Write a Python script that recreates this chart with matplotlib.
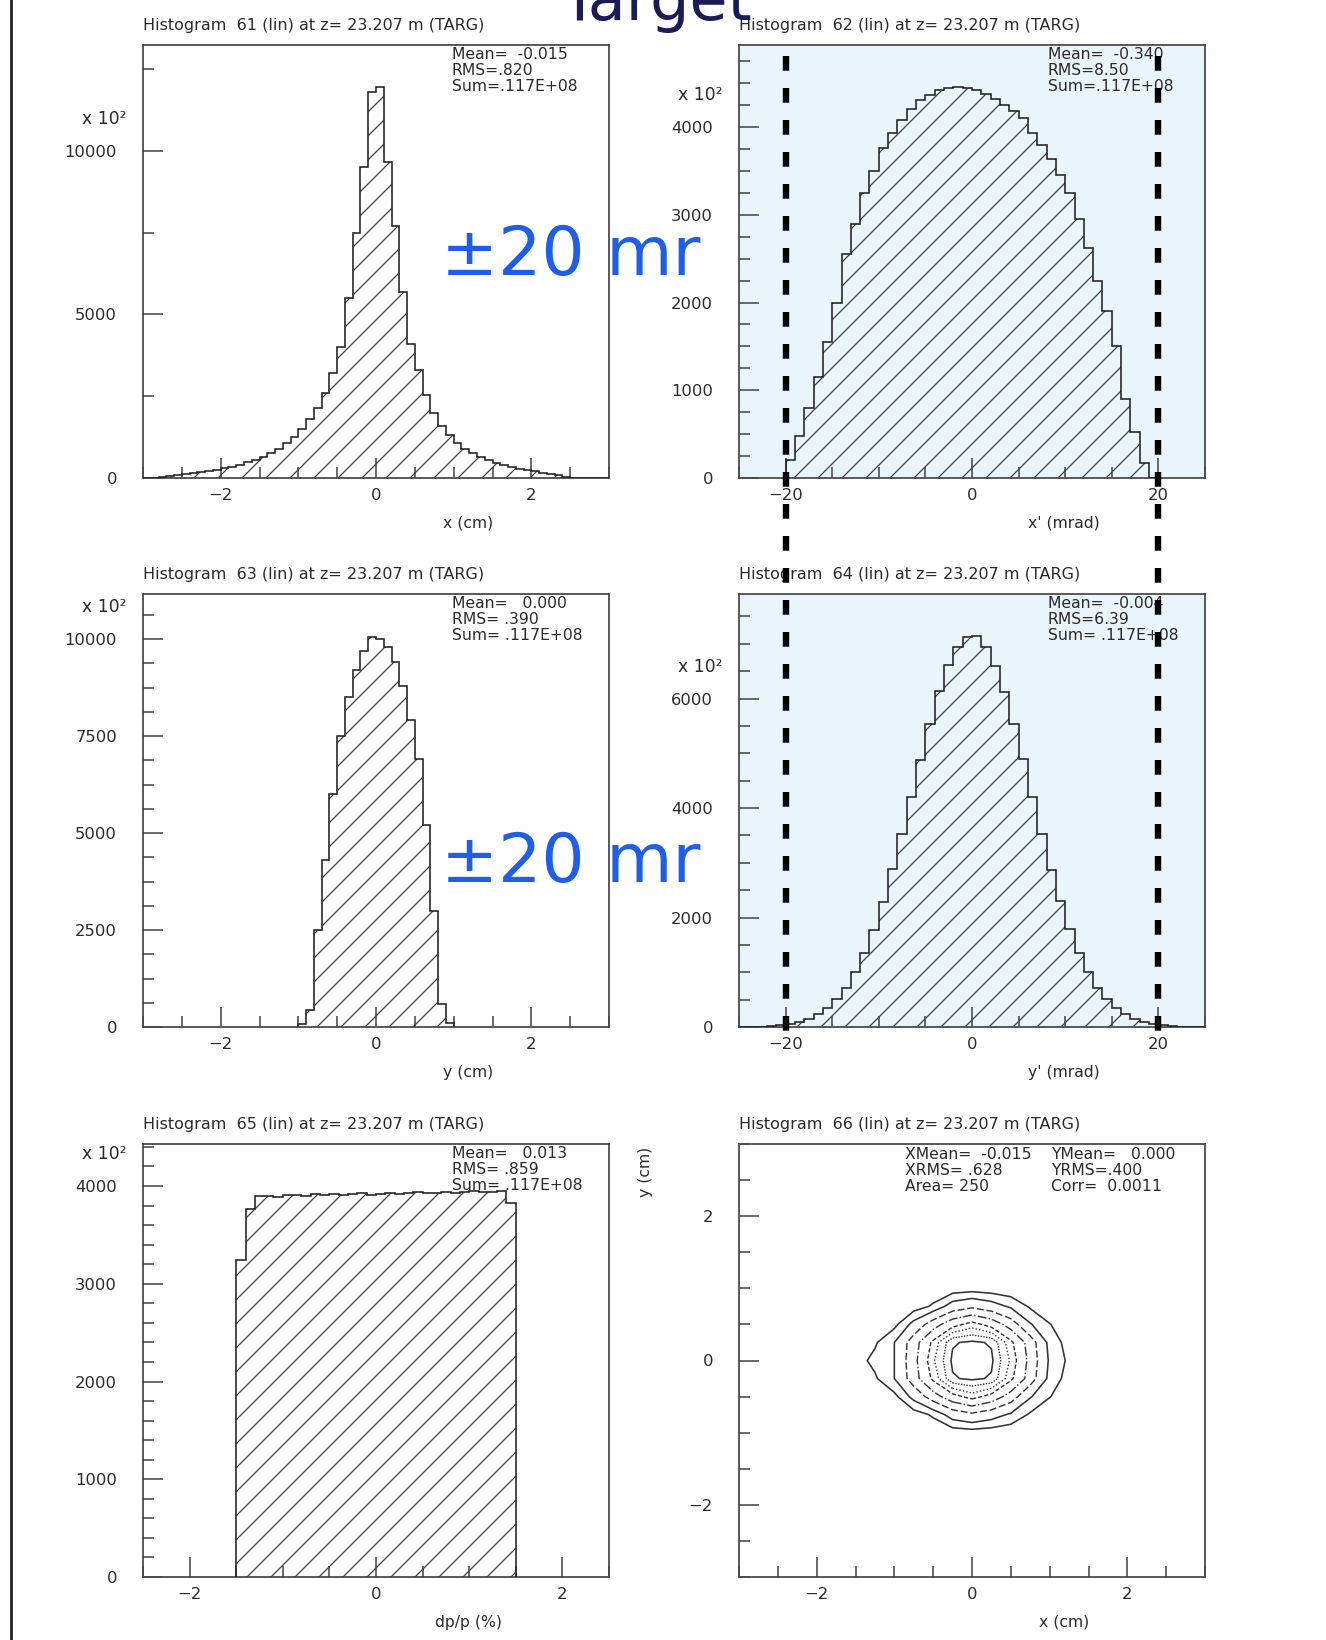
import numpy as np
import matplotlib
matplotlib.use("Agg")
import matplotlib.pyplot as plt
import matplotlib.transforms as mtransforms
from matplotlib.lines import Line2D
from matplotlib.ticker import MultipleLocator, FuncFormatter

# ---------------------------------------------------------------------------
# Histogram contents at z = 23.207 m (TARG), counts in units of 10^2
# ---------------------------------------------------------------------------
# 61: x (cm), bins of 0.1 starting at -3.0
x_lo, x_bin = -3.0, 0.1
x_counts = [0, 0, 40, 60, 80, 110, 140, 170, 210, 250,
            300, 350, 410, 480, 560, 650, 760, 900, 1060, 1260,
            1500, 1800, 2150, 2600, 3200, 4000, 5500, 7500, 9500, 11800,
            11950, 9650, 7700, 5700, 4100, 3300, 2550, 2000, 1600, 1300,
            1080, 900, 760, 640, 540, 460, 390, 330, 280, 240,
            200, 160, 120, 80, 40, 0, 0, 0, 0, 0]

# 62: x' (mrad), bins of 1 starting at -20
xp_lo, xp_bin = -20.0, 1.0
xp_counts = [200, 480, 800, 1150, 1550, 2000, 2550, 2900, 3250, 3500,
             3760, 3930, 4080, 4200, 4310, 4370, 4420, 4450, 4460, 4445,
             4420, 4380, 4320, 4250, 4180, 4100, 3930, 3800, 3640, 3450,
             3250, 2950, 2620, 2250, 1900, 1500, 900, 520, 175, 0]

# 63: y (cm), bins of 0.1 starting at -1.0
y_lo, y_bin = -1.0, 0.1
y_counts = [80, 450, 2500, 4300, 6000, 7500, 8500, 9200, 9700, 10050,
            10000, 9800, 9400, 8800, 7900, 6900, 5200, 3000, 600, 100]

# 64: y' (mrad), bins of 1 starting at -25
yp_lo, yp_bin = -25.0, 1.0
yp_counts = [0, 0, 6, 14, 28,
             60, 95, 150, 230, 345, 505, 720, 1000, 1350, 1780,
             2290, 2880, 3520, 4200, 4880, 5540, 6130, 6610, 6950, 7130,
             7140, 6940, 6600, 6120, 5540, 4890, 4200, 3520, 2870, 2300,
             1790, 1350, 1000, 720, 505, 345, 235, 150, 95, 60,
             28, 14, 6, 0, 0]

# 65: dp/p (%), bins of 0.1 starting at -1.5
dp_lo, dp_bin = -1.5, 0.1
dp_counts = [3240, 3760, 3895, 3900, 3890, 3905, 3910, 3900, 3915, 3905,
             3920, 3910, 3915, 3925, 3910, 3920, 3930, 3920, 3925, 3935,
             3925, 3930, 3940, 3930, 3935, 3945, 3935, 3940, 3945, 3830]

# 66: y vs x density on a coarse grid (arbitrary units)
grid_x = [-1.5, -1.25, -1.0, -0.75, -0.5, -0.25, 0.0, 0.25, 0.5, 0.75, 1.0, 1.25, 1.5]
grid_y = [-1.0, -0.75, -0.5, -0.25, 0.0, 0.25, 0.5, 0.75, 1.0]
grid_z = [
    [0.0, 0.0, 0.0, 0.1, 0.3, 0.4, 0.5, 0.4, 0.3, 0.1, 0.0, 0.0, 0.0],
    [0.0, 0.0, 0.2, 0.5, 1.15, 2.6, 3.18, 2.6, 1.8, 0.85, 0.2, 0.0, 0.0],
    [0.0, 0.2, 0.7, 2.4, 4.3, 6.0, 7.0, 6.0, 4.3, 2.1, 1.05, 0.3, 0.0],
    [0.3, 0.85, 2.0, 4.29, 6.8, 9.3, 9.58, 9.3, 6.8, 4.29, 1.6, 0.6, 0.0],
    [0.56, 1.29, 2.0, 4.5, 7.33, 9.58, 10.0, 9.58, 7.33, 4.5, 1.8, 0.8, 0.0],
    [0.3, 0.85, 2.0, 4.29, 6.8, 9.3, 9.58, 9.3, 6.8, 4.29, 1.6, 0.6, 0.0],
    [0.0, 0.2, 0.7, 2.4, 4.3, 6.0, 7.0, 6.0, 4.3, 2.1, 1.05, 0.3, 0.0],
    [0.0, 0.0, 0.2, 0.5, 1.15, 2.6, 3.18, 2.6, 1.8, 0.85, 0.2, 0.0, 0.0],
    [0.0, 0.0, 0.0, 0.1, 0.3, 0.4, 0.5, 0.4, 0.3, 0.1, 0.0, 0.0, 0.0],
]
contour_levels = [1.0, 2.0, 3.5, 5.0, 6.5, 7.5, 8.5, 9.4]

titles = ["Histogram  61 (lin) at z= 23.207 m (TARG)",
          "Histogram  62 (lin) at z= 23.207 m (TARG)",
          "Histogram  63 (lin) at z= 23.207 m (TARG)",
          "Histogram  64 (lin) at z= 23.207 m (TARG)",
          "Histogram  65 (lin) at z= 23.207 m (TARG)",
          "Histogram  66 (lin) at z= 23.207 m (TARG)"]
xlabels = ["x (cm)", "x' (mrad)", "y (cm)", "y' (mrad)", "dp/p (%)", "x (cm)"]
stats = [["Mean=  -0.015", "RMS=.820", "Sum=.117E+08"],
         ["Mean=  -0.340", "RMS=8.50", "Sum=.117E+08"],
         ["Mean=   0.000", "RMS= .390", "Sum= .117E+08"],
         ["Mean=  -0.004", "RMS=6.39", "Sum= .117E+08"],
         ["Mean=   0.013", "RMS= .859", "Sum= .117E+08"]]
stats66_left = ["XMean=  -0.015", "XRMS= .628", "Area= 250"]
stats66_right = ["YMean=   0.000", "YRMS=.400", "Corr=  0.0011"]
cut_mrad = [-20, 20]
cut_label = "\u00b120 mr"

# ---------------------------------------------------------------------------
W, H, DPI = 1326, 1640, 144
TXT = "#2a2a2a"
AXC = "#4a4a4a"
plt.rcParams['font.family'] = ['DejaVu Sans']
plt.rcParams['hatch.linewidth'] = 0.6
plt.rcParams['hatch.color'] = '#3a3a3a'

fig = plt.figure(figsize=(W / DPI, H / DPI), dpi=DPI, facecolor='white')


def make_axes(px_left, px_top, px_w, px_h, face='white'):
    return fig.add_axes([px_left / W, 1 - (px_top + px_h) / H, px_w / W, px_h / H],
                        facecolor=face)


def style(ax, xlim, ylim, xmaj, xmin, ymaj, ymin, title, xlabel, x100=True):
    ax.set_xlim(*xlim)
    ax.set_ylim(*ylim)
    ax.xaxis.set_major_locator(MultipleLocator(xmaj))
    ax.xaxis.set_minor_locator(MultipleLocator(xmin))
    ax.yaxis.set_major_locator(MultipleLocator(ymaj))
    ax.yaxis.set_minor_locator(MultipleLocator(ymin))
    fmt = FuncFormatter(lambda v, p: f"{v:.0f}".replace("-", "\u2212"))
    ax.xaxis.set_major_formatter(fmt)
    ax.yaxis.set_major_formatter(fmt)
    ax.tick_params(which='both', direction='in', top=False, right=False,
                   color=AXC, labelcolor=TXT, labelsize=8.2, width=0.8)
    ax.tick_params(which='major', length=10)
    ax.tick_params(which='minor', length=5.5)
    ax.tick_params(axis='y', pad=13)
    ax.tick_params(axis='x', pad=5)
    for s in ax.spines.values():
        s.set_color(AXC)
        s.set_linewidth(0.9)
    ax.text(0.0, 1.046, title, transform=ax.transAxes, ha='left', va='center',
            fontsize=8, color=TXT)
    ax.text(0.698, -0.104, xlabel, transform=ax.transAxes, ha='center', va='center',
            fontsize=7.8, color=TXT)
    if x100:
        ticks = [t for t in ax.yaxis.get_majorticklocs() if t <= ylim[1]]
        blend = mtransforms.blended_transform_factory(ax.transAxes, ax.transData)
        ax.annotate("x 10\u00b2", xy=(0, max(ticks)), xycoords=blend,
                    xytext=(-8, 16), textcoords='offset points',
                    ha='right', va='center', fontsize=8.6, color=TXT)


def put_stats(ax, lines, xfrac=0.663):
    for i, s in enumerate(lines):
        ax.text(xfrac, 0.978 - 0.037 * i, s, transform=ax.transAxes,
                ha='left', va='center', fontsize=7.8, color=TXT, zorder=6)


def draw_hist(ax, lo, width, counts):
    counts = np.asarray(counts, dtype=float)
    edges = lo + width * np.arange(len(counts) + 1)
    ax.stairs(counts, edges, fill=True, facecolor='none', edgecolor='#3a3a3a',
              hatch='//', linewidth=0, zorder=2)
    ax.stairs(counts, edges, color='#222222', linewidth=0.8, zorder=3)


col_x = [143, 739]
row_y = [45, 594, 1144]
pw, ph = 466, 433
blue = '#eaf5fb'

ax1 = make_axes(col_x[0], row_y[0], pw, ph)
ax2 = make_axes(col_x[1], row_y[0], pw, ph, face=blue)
ax3 = make_axes(col_x[0], row_y[1], pw, ph)
ax4 = make_axes(col_x[1], row_y[1], pw, ph, face=blue)
ax5 = make_axes(col_x[0], row_y[2], pw, ph)
ax6 = make_axes(col_x[1], row_y[2], pw, ph)

draw_hist(ax1, x_lo, x_bin, x_counts)
style(ax1, (-3, 3), (0, 13240), 2, 0.5, 5000, 2500, titles[0], xlabels[0])
put_stats(ax1, stats[0])

draw_hist(ax2, xp_lo, xp_bin, xp_counts)
style(ax2, (-25, 25), (0, 4935), 20, 5, 1000, 250, titles[1], xlabels[1])
put_stats(ax2, stats[1])

draw_hist(ax3, y_lo, y_bin, y_counts)
style(ax3, (-3, 3), (0, 11160), 2, 0.5, 2500, 625, titles[2], xlabels[2])
put_stats(ax3, stats[2])

draw_hist(ax4, yp_lo, yp_bin, yp_counts)
style(ax4, (-25, 25), (0, 7910), 20, 5, 2000, 500, titles[3], xlabels[3])
put_stats(ax4, stats[3])

draw_hist(ax5, dp_lo, dp_bin, dp_counts)
style(ax5, (-2.5, 2.5), (0, 4430), 2, 0.5, 1000, 200, titles[4], xlabels[4])
put_stats(ax5, stats[4])

# y vs x contour map
gx, gy = np.meshgrid(grid_x, grid_y)
ax6.contour(gx, gy, np.asarray(grid_z), levels=contour_levels, colors='#333333',
            linewidths=[0.8, 0.8, 0.7, 0.7, 0.7, 0.7, 0.7, 0.8],
            linestyles=['solid', 'solid', (0, (5, 2)), 'dashdot', (0, (3, 1.5)),
                        (0, (1, 1.5)), (0, (1, 1)), 'solid'])
style(ax6, (-3, 3), (-3, 3), 2, 0.5, 2, 0.5, titles[5], xlabels[5], x100=False)
for i, (a, b) in enumerate(zip(stats66_left, stats66_right)):
    ax6.text(0.357, 0.976 - 0.037 * i, a, transform=ax6.transAxes, ha='left',
             va='center', fontsize=7.8, color=TXT)
    ax6.text(0.670, 0.976 - 0.037 * i, b, transform=ax6.transAxes, ha='left',
             va='center', fontsize=7.8, color=TXT)
ax6.text(-0.20, 0.993, "y (cm)", transform=ax6.transAxes, rotation=90,
         ha='center', va='top', fontsize=7.8, color=TXT)

# angular acceptance cuts across the x' and y' panels
blend2 = mtransforms.blended_transform_factory(ax2.transData, fig.transFigure)
for xv in cut_mrad:
    fig.add_artist(Line2D([xv, xv], [1 - 56 / H, 1 - 1032 / H], transform=blend2,
                          color='black', linewidth=3.2, linestyle=(0, (2.3, 2.7)),
                          dash_capstyle='butt', zorder=20))

for yc in (256, 863):
    fig.text(441 / W, 1 - yc / H, cut_label, fontsize=34, color='#1f5ee8',
             ha='left', va='center', zorder=21)

# slide decoration
fig.add_artist(Line2D([11 / W, 11 / W], [0, 1], transform=fig.transFigure,
                      color='#222222', linewidth=1.4))
fig.text(560 / W, 1 - 20 / H, "Target", fontsize=31, color='#1b1b55',
         ha='left', va='baseline')

fig.savefig("out.png", dpi=DPI, facecolor='white')
